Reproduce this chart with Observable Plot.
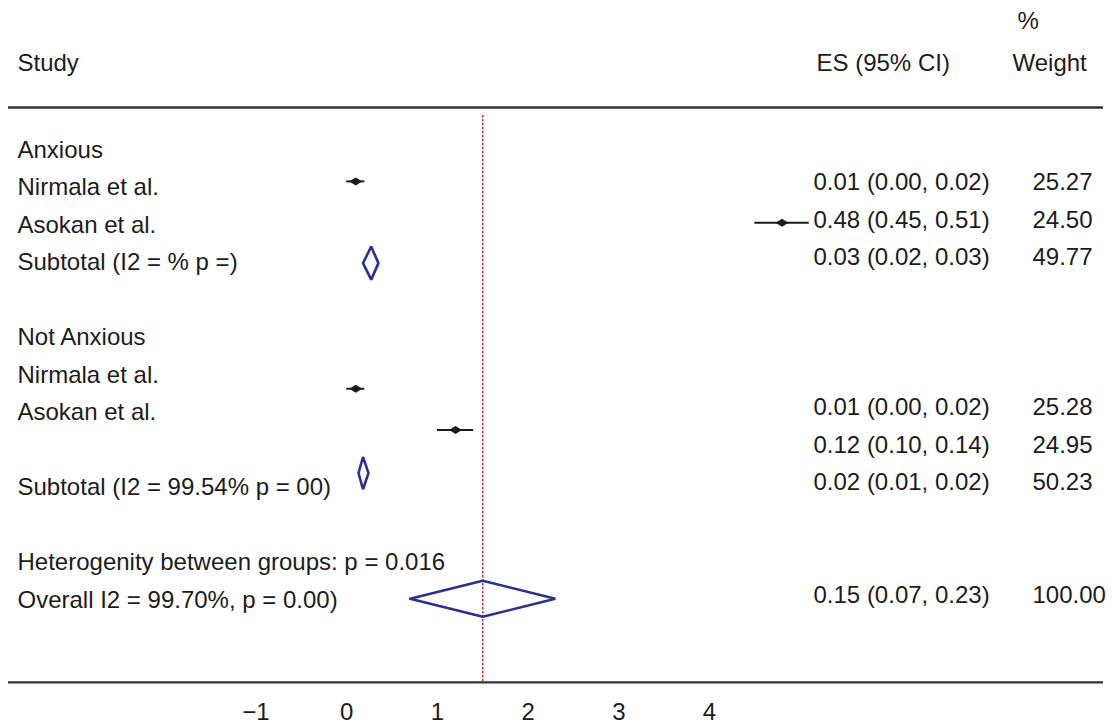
<!DOCTYPE html>
<html>
<head>
<meta charset="utf-8">
<script src="https://cdn.jsdelivr.net/npm/d3@7"></script>
<script src="https://cdn.jsdelivr.net/npm/@observablehq/plot@0.6"></script>
<style>
  html, body { margin: 0; padding: 0; background: #fff; }
  #chart svg { display: block; }
</style>
</head>
<body>
<div id="chart"></div>
<script>
// ---- Data ----
const studyLabels = [
  "Anxious", "Nirmala et al.", "Asokan et al.", "Subtotal (I2 = % p =)",
  "Not Anxious", "Nirmala et al.", "Asokan et al.", "Subtotal (I2 = 99.54% p = 00)",
  "Heterogenity between groups: p = 0.016", "Overall I2 = 99.70%, p = 0.00)"
];
const labelRows = [0, 1, 2, 3, 5, 6, 7, 9, 11, 12];

const esText = ["0.01 (0.00, 0.02)", "0.48 (0.45, 0.51)", "0.03 (0.02, 0.03)",
                "0.01 (0.00, 0.02)", "0.12 (0.10, 0.14)", "0.02 (0.01, 0.02)",
                "0.15 (0.07, 0.23)"];
const weightText = ["25.27", "24.50", "49.77", "25.28", "24.95", "50.23", "100.00"];
const valueRows = [1, 2, 3, 7, 8, 9, 12];

// individual studies (effect size, CI) and the row where the marker sits
const studyES = [0.01, 0.48, 0.01, 0.12];
const studyLo = [0.00, 0.45, 0.00, 0.10];
const studyHi = [0.02, 0.51, 0.02, 0.14];
const studyRows = [0.97, 2.07, 6.5, 7.6];

// pooled estimates (diamonds)
const pooledES = [0.027, 0.018, 0.15];
const pooledLo = [0.018, 0.013, 0.07];
const pooledHi = [0.035, 0.024, 0.23];
const pooledRows = [3.15, 8.75, 12.1];
const overallES = 0.15;

// axis ticks
const tickValues = [-0.1, 0, 0.1, 0.2, 0.3, 0.4];
const tickLabels = ["\u22121", "0", "1", "2", "3", "4"];

// headers
const headers = ["Study", "ES (95% CI)", "Weight"];

// ---- Build tables ----
const labels = studyLabels.map((t, i) => ({t, row: labelRows[i]}));
const values = esText.map((t, i) => ({es: t, w: weightText[i], row: valueRows[i]}));
const studies = studyES.map((es, i) => ({es, lo: studyLo[i], hi: studyHi[i], row: studyRows[i]}));
const halfH = [0.44, 0.43, 0.48];
const diamonds = pooledES.flatMap((es, i) => {
  const r = pooledRows[i], h = halfH[i];
  return [
    {g: i, x: pooledLo[i], y: r},
    {g: i, x: es, y: r - h},
    {g: i, x: pooledHi[i], y: r},
    {g: i, x: es, y: r + h},
    {g: i, x: pooledLo[i], y: r}
  ];
});
const ticks = tickValues.map((v, i) => ({v, label: tickLabels[i]}));

const wideDiamond = {
  draw(context, size) {
    const s = Math.sqrt(size / Math.PI);
    context.moveTo(-s * 1.3, 0);
    context.lineTo(0, -s * 0.8);
    context.lineTo(s * 1.3, 0);
    context.lineTo(0, s * 0.8);
    context.closePath();
  }
};

const W = 1112, H = 724;
const rowPx = 37.5, row0 = 144.5;
const font = "'Liberation Sans', Arial, Helvetica, sans-serif";
const ink = "#1c1c1c";
const navy = "#2b2f8f";

const chart = Plot.plot({
  width: W,
  height: H,
  margin: 0,
  style: {fontFamily: font, background: "#fff"},
  x: {domain: [-346.2 / 907, (W - 346.2) / 907], range: [0, W], axis: null},
  y: {domain: [-row0 / rowPx, (H - row0) / rowPx], range: [0, H], axis: null},
  marks: [
    // header and axis rules
    Plot.ruleY([-1], {stroke: "#333", strokeWidth: 2.5, insetLeft: 8, insetRight: 9}),
    Plot.ruleY([14.33], {stroke: "#333", strokeWidth: 2.2, insetLeft: 8, insetRight: 9}),
    // overall effect line
    Plot.ruleX([overallES], {stroke: "#d8283c", strokeWidth: 1.6, strokeDasharray: "2.5,1.5", insetTop: 115, insetBottom: 42}),
    // headers
    Plot.text(["%"], {frameAnchor: "left", y: [-3.3], dx: 1017, text: d => d, fontSize: 24, fill: ink, textAnchor: "start"}),
    Plot.text([headers[0]], {frameAnchor: "left", y: [-2.17], dx: 17, text: d => d, fontSize: 24, fill: ink, textAnchor: "start"}),
    Plot.text([headers[1]], {frameAnchor: "left", y: [-2.17], dx: 816, text: d => d, fontSize: 24, fill: ink, textAnchor: "start"}),
    Plot.text([headers[2]], {frameAnchor: "left", y: [-2.17], dx: 1012, text: d => d, fontSize: 24, fill: ink, textAnchor: "start"}),
    // left study labels
    Plot.text(labels, {frameAnchor: "left", y: "row", dx: 17, dy: 5, text: "t", fontSize: 24, fill: ink, textAnchor: "start"}),
    // right columns
    Plot.text(values, {frameAnchor: "left", y: "row", dx: 813, text: "es", fontSize: 24, fill: ink, textAnchor: "start"}),
    Plot.text(values, {frameAnchor: "left", y: "row", dx: 1032, text: "w", fontSize: 24, fill: ink, textAnchor: "start"}),
    // study CIs and markers
    Plot.ruleY(studies, {y: "row", x1: "lo", x2: "hi", stroke: ink, strokeWidth: 2}),
    Plot.dot(studies, {x: "es", y: "row", r: 5, symbol: wideDiamond, fill: ink, stroke: "none"}),
    // pooled diamonds
    Plot.line(diamonds, {x: "x", y: "y", z: "g", stroke: navy, strokeWidth: 2.6, strokeLinejoin: "miter"}),
    // tick labels
    Plot.text(ticks, {x: "v", y: () => 15.13, text: "label", fontSize: 24, fill: ink})
  ]
});

document.getElementById("chart").appendChild(chart);
</script>
</body>
</html>
